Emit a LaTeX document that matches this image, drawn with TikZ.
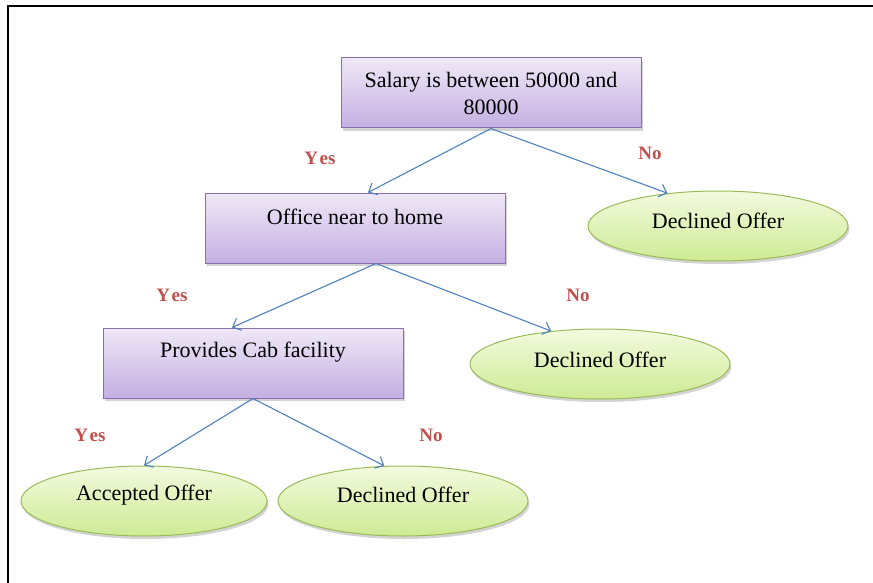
\documentclass[tikz,border=0pt]{standalone}
\usepackage{fontspec}
\setmainfont{Liberation Serif}
\usetikzlibrary{arrows.meta,shapes.geometric,shadows}

\definecolor{boxline}{HTML}{8B70AD}
\definecolor{boxtop}{HTML}{EFE8F7}
\definecolor{boxbot}{HTML}{C4AFE2}
\definecolor{ovalline}{HTML}{9BBB59}
\definecolor{ovaltop}{HTML}{F3FADF}
\definecolor{ovalbot}{HTML}{CDEB94}
\definecolor{link}{HTML}{4F81BD}
\definecolor{answer}{HTML}{C0504D}

\begin{document}
\begin{tikzpicture}[x=1pt,y=-1pt,
  softshadow/.style={drop shadow={shadow xshift=1.5pt,shadow yshift=-3pt,opacity=.35}},
  caption/.style={font=\fontsize{22}{27}\selectfont, text=black},
  test/.style={rectangle, draw=boxline, line width=1pt,
    top color=boxtop, bottom color=boxbot,
    minimum width=300pt, minimum height=70pt, inner sep=0pt,
    caption, align=center, softshadow},
  outcome/.style={ellipse, draw=ovalline, line width=1pt,
    top color=ovaltop, bottom color=ovalbot,
    minimum width=260pt, minimum height=70pt, inner sep=0pt, softshadow},
  link/.style={draw=link, line width=1.1pt,
    -{Straight Barb[length=7pt,width=13pt]}},
  answer/.style={font=\fontsize{19}{22}\selectfont\bfseries, text=answer}
]
\useasboundingbox (0,0) rectangle (873,583);

% frame
\draw[line width=2.5pt, line cap=rect] (8,583) -- (8,6) -- (873,6);

% decision boxes
\node[test] (salary) at (491,93) {Salary is between 50000 and\\80000};
\node[test, label={[caption, yshift=11pt]center:Office near to home}] (office) at (355,228) {};
\node[test, label={[caption, yshift=11pt]center:Provides Cab facility}] (cab) at (253,363) {};

% outcomes
\node[outcome, label={[caption, yshift=5pt]center:Declined Offer}] (dec1) at (718,226) {};
\node[outcome, label={[caption, yshift=4pt]center:Declined Offer}] (dec2) at (600,364) {};
\node[outcome, minimum width=246pt, label={[caption, yshift=6pt]center:Accepted Offer}] (acc) at (144,501) {};
\node[outcome, minimum width=250pt, label={[caption, yshift=6pt]center:Declined Offer}] (dec3) at (403,501) {};

% connectors
\draw[link] (salary.south) -- ([xshift=13pt]office.north);
\draw[link] (salary.south) -- (dec1.147);
\draw[link] ([xshift=21pt]office.south) -- ([xshift=-21pt]cab.north);
\draw[link] ([xshift=21pt]office.south) -- (dec2.146);
\draw[link] (cab.south) -- (acc.north);
\draw[link] (cab.south) -- (dec3.118);

% branch labels
\node[answer] (y1) at (320,158) {Y\kern1.5pt es};
\node[answer] (n1) at (650,153) {No};
\node[answer] (y2) at (172,295) {Y\kern1.5pt es};
\node[answer] (n2) at (578,295) {No};
\node[answer] (y3) at (90,435) {Y\kern1.5pt es};
\node[answer] (n3) at (431,435) {No};
\end{tikzpicture}
\end{document}
